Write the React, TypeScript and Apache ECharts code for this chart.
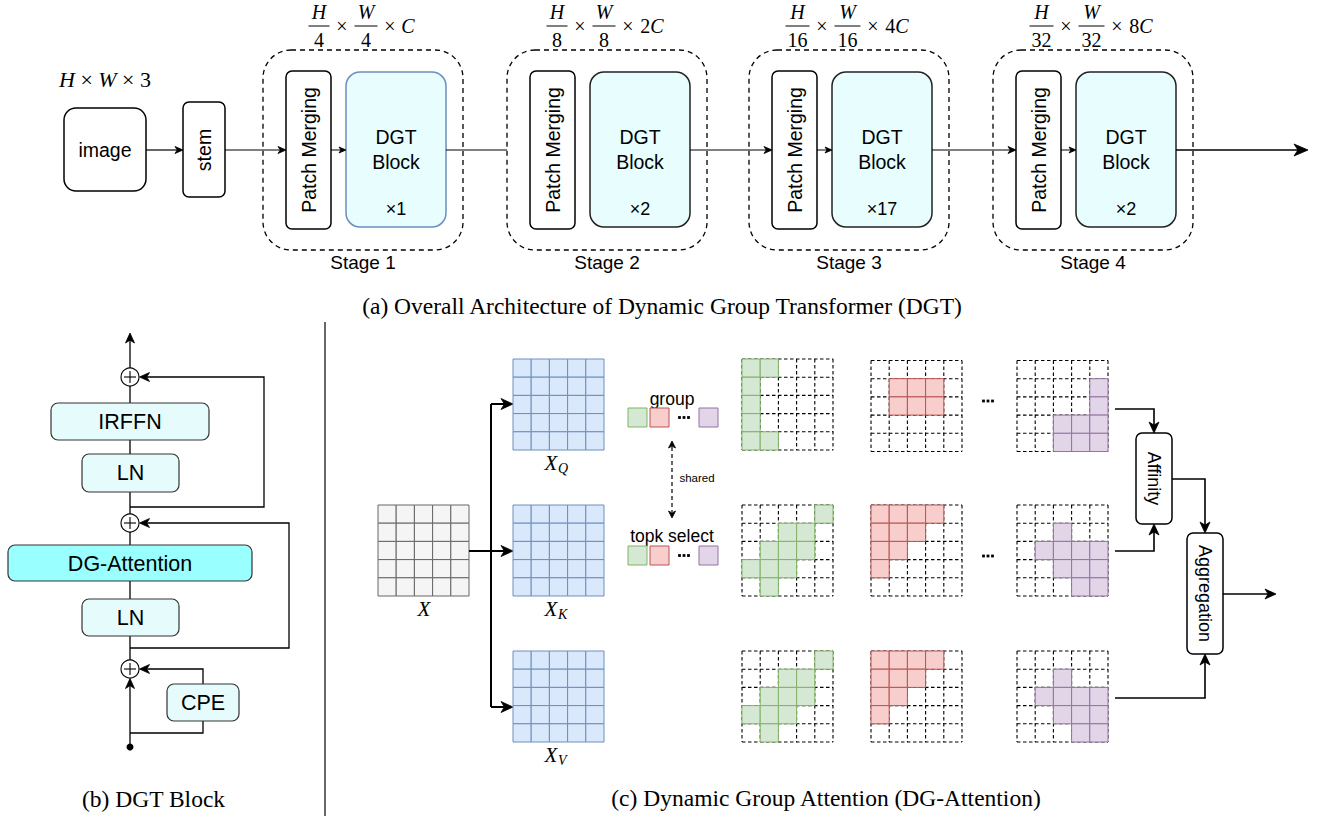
import React, { useEffect, useRef } from 'react';
import * as echarts from 'echarts';

// ---------- data ----------
const stageNames = ['Stage 1', 'Stage 2', 'Stage 3', 'Stage 4'];
const stageDenominators = ['4', '8', '16', '32'];
const stageChannelMult = ['', '2', '4', '8'];
const stageRepeats = ['×1', '×2', '×17', '×2'];
const blockLabels = ['IRFFN', 'LN', 'DG-Attention', 'LN', 'CPE'];
const qkvNames = ['Q', 'K', 'V'];
const captions = [
  '(a) Overall Architecture of Dynamic Group Transformer (DGT)',
  '(b) DGT Block',
  '(c) Dynamic Group Attention (DG-Attention)',
];
// group cells [row, col] for query maps
const greenQ = [[0, 0], [0, 1], [1, 0], [2, 0], [3, 0], [4, 0], [4, 1]];
const redQ = [[1, 1], [1, 2], [1, 3], [2, 1], [2, 2], [2, 3]];
const purpleQ = [[1, 4], [2, 4], [3, 2], [3, 3], [3, 4], [4, 2], [4, 3], [4, 4]];
// topk-selected cells for key / value maps
const greenKV = [[0, 4], [1, 2], [1, 3], [2, 1], [2, 2], [2, 3], [3, 0], [3, 1], [3, 2], [4, 1]];
const redKV = [[0, 0], [0, 1], [0, 2], [0, 3], [1, 0], [1, 1], [1, 2], [2, 0], [2, 1], [3, 0]];
const purpleKV = [[1, 2], [2, 1], [2, 2], [2, 3], [2, 4], [3, 2], [3, 3], [3, 4], [4, 3], [4, 4]];

const SANS = '"Liberation Sans", Arial, Helvetica, sans-serif';
const SERIF = '"Liberation Serif", "Times New Roman", serif';

function buildElements() {
  const els: any[] = [];
  const rect = (x: number, y: number, w: number, h: number, r: number, fill: string, stroke: string, lw = 1, dash?: number[]) => {
    els.push({ type: 'rect', silent: true, shape: { x, y, width: w, height: h, r }, style: { fill, stroke, lineWidth: lw, lineDash: dash } });
  };
  const poly = (pts: number[][], lw = 1, dash?: number[], color = '#000') => {
    els.push({ type: 'polyline', silent: true, shape: { points: pts }, style: { stroke: color, fill: null, lineWidth: lw, lineDash: dash } });
  };
  const head = (tx: number, ty: number, dx: number, dy: number, len: number, hw: number) => {
    const px = -dy, py = dx;
    els.push({
      type: 'polygon', silent: true,
      shape: { points: [[tx, ty], [tx - dx * len + px * hw, ty - dy * len + py * hw], [tx - dx * len * 0.72, ty - dy * len * 0.72], [tx - dx * len - px * hw, ty - dy * len - py * hw]] },
      style: { fill: '#000', stroke: '#000', lineWidth: 0.8 },
    });
  };
  const arrow = (pts: number[][], lw: number, len: number, hw: number, dash?: number[]) => {
    const n = pts.length;
    const [x1, y1] = pts[n - 2];
    const [x2, y2] = pts[n - 1];
    const d = Math.hypot(x2 - x1, y2 - y1);
    const dx = (x2 - x1) / d, dy = (y2 - y1) / d;
    poly(pts.slice(0, n - 1).concat([[x2 - dx * len * 0.7, y2 - dy * len * 0.7]]), lw, dash);
    head(x2, y2, dx, dy, len, hw);
  };
  const txt = (x: number, y: number, s: string, size: number, o: any = {}) => {
    els.push({
      type: 'text', silent: true, x, y, rotation: o.rot || 0,
      style: {
        text: s, fontSize: size, fontFamily: o.family || SANS, fontStyle: o.italic ? 'italic' : 'normal',
        fontWeight: o.weight || 'normal', fill: '#000',
        align: o.align || 'center', verticalAlign: 'middle', textAlign: o.align || 'center', textVerticalAlign: 'middle',
        rich: o.rich,
      },
    });
  };
  const mathRich = (size: number) => ({
    i: { fontFamily: SERIF, fontStyle: 'italic', fontSize: size, fill: '#000' },
    n: { fontFamily: SERIF, fontSize: size, fill: '#000' },
  });

  // ================= (a) overall architecture =================
  const FLOW_Y = 150;
  txt(105, 79, '{i|H}{n| × }{i|W}{n| × }{n|3}', 22, { rich: mathRich(22), family: SERIF });
  rect(64, 108, 82, 83, 12, '#fff', '#000', 1.5);
  txt(105, 150, 'image', 19.5);
  rect(183, 102, 42, 95, 6, '#fff', '#000', 1.5);
  txt(204, 150, 'stem', 19.5, { rot: Math.PI / 2 });
  arrow([[146, FLOW_Y], [183, FLOW_Y]], 1.2, 8, 3.5);

  const stageX = [263, 507, 749, 993];
  const stageW = 200;
  stageNames.forEach((name, i) => {
    const sx = stageX[i];
    const cx = sx + stageW / 2;
    rect(sx, 50, stageW, 200, 28, 'none', '#000', 1.3, [5, 4]);
    txt(cx, 262, name, 19);
    // fraction header
    const den = stageDenominators[i];
    const fw = den.length > 1 ? 24 : 21;
    const ch = stageChannelMult[i];
    const chW = ch ? 27 : 15;
    const gap = 6;
    const total = fw + gap + 13 + gap + fw + 2 + gap + 13 + gap + chW;
    let x = cx - total / 2;
    poly([[x, 26], [x + fw, 26]], 1);
    txt(x + fw / 2, 12, 'H', 20, { family: SERIF, italic: true });
    txt(x + fw / 2, 40, den, 20, { family: SERIF });
    x += fw + gap;
    txt(x + 6.5, 26, '×', 20, { family: SERIF });
    x += 13 + gap;
    poly([[x, 26], [x + fw + 2, 26]], 1);
    txt(x + (fw + 2) / 2, 12, 'W', 20, { family: SERIF, italic: true });
    txt(x + (fw + 2) / 2, 40, den, 20, { family: SERIF });
    x += fw + 2 + gap;
    txt(x + 6.5, 26, '×', 20, { family: SERIF });
    x += 13 + gap;
    txt(x + chW / 2 - 2, 26, ch ? `{n|${ch}}{i|C}` : '{i|C}', 20, { rich: mathRich(20), family: SERIF });

    // patch merging
    const pmx = sx + 23;
    rect(pmx, 71, 45, 158, 6, '#fff', '#000', 1.5);
    txt(pmx + 22.5, FLOW_Y, 'Patch Merging', 19.5, { rot: Math.PI / 2 });
    // DGT block
    const bx = sx + 83;
    rect(bx, 72, 100, 155, 14, '#e8fdfd', i === 0 ? '#6c8ebf' : '#222', 1.5);
    txt(bx + 50, 137, 'DGT', 19.5);
    txt(bx + 50, 162, 'Block', 19.5);
    txt(bx + 50, 209, stageRepeats[i], 18);
    if (i !== 1) arrow([[pmx + 45, FLOW_Y], [bx, FLOW_Y]], 1, 7, 3);
    if (i === 0) {
      arrow([[225, FLOW_Y], [pmx, FLOW_Y]], 1.2, 8, 3.5);
      poly([[bx + 100, FLOW_Y], [stageX[1], FLOW_Y]], 1.2);
    } else if (i < 3) {
      arrow([[bx + 100, FLOW_Y], [stageX[i + 1] + 23, FLOW_Y]], 1.2, 8, 3.5);
    } else {
      arrow([[bx + 100, FLOW_Y], [1308, FLOW_Y]], 1.6, 14, 6);
    }
  });
  txt(662, 306, captions[0], 23.5, { family: SERIF });

  // ================= (b) DGT block =================
  const BX = 130;
  const LW_B = 1.3;
  const fillLight = '#e6fcfc';
  [[386, 403], [440, 454], [492, 514], [532, 545], [581, 599], [636, 660]].forEach(([a, b]) => poly([[BX, a], [BX, b]], LW_B));
  arrow([[BX, 368], [BX, 333]], LW_B, 10, 4.5);
  arrow([[BX, 507], [264, 507], [264, 377], [139.5, 377]], LW_B, 10, 4.5);
  arrow([[BX, 648], [289, 648], [289, 523], [139.5, 523]], LW_B, 10, 4.5);
  poly([[BX, 733], [203, 733], [203, 721]], LW_B);
  arrow([[203, 684], [203, 669], [139.5, 669]], LW_B, 10, 4.5);
  arrow([[BX, 747], [BX, 678.5]], LW_B, 10, 4.5);
  els.push({ type: 'circle', silent: true, shape: { cx: BX, cy: 747, r: 3.5 }, style: { fill: '#000' } });
  rect(51, 403, 158, 37, 7, fillLight, '#333', 1.2);
  txt(130, 422, blockLabels[0], 21.5);
  rect(82, 454, 97, 38, 7, fillLight, '#333', 1.2);
  txt(130.5, 473, blockLabels[1], 21.5);
  rect(8, 545, 244, 36, 7, '#99ffff', '#333', 1.2);
  txt(130, 563.5, blockLabels[2], 21.5);
  rect(82, 599, 97, 37, 7, fillLight, '#333', 1.2);
  txt(130.5, 618, blockLabels[3], 21.5);
  rect(167, 684, 72, 37, 7, fillLight, '#333', 1.2);
  txt(203, 703, blockLabels[4], 21.5);
  [377, 523, 669].forEach((cy) => {
    els.push({ type: 'circle', silent: true, shape: { cx: BX, cy, r: 9 }, style: { fill: '#fff', stroke: '#000', lineWidth: 1.1 } });
    poly([[BX - 6, cy], [BX + 6, cy]], 1.1);
    poly([[BX, cy - 6], [BX, cy + 6]], 1.1);
  });
  txt(153.5, 799, captions[1], 23.5, { family: SERIF });

  // divider
  poly([[325, 322], [325, 816]], 1.2);

  // ================= (c) DG-Attention =================
  const CS = 18.2;
  const solidGrid = (x: number, y: number, fill: string, stroke: string) => {
    for (let r = 0; r < 5; r++) for (let c = 0; c < 5; c++) rect(x + c * CS, y + r * CS, CS, CS, 0, fill, stroke, 1);
  };
  const attnGrid = (x: number, y: number, cells: number[][], fill: string, stroke: string) => {
    for (let k = 0; k <= 5; k++) {
      poly([[x, y + k * CS], [x + 5 * CS, y + k * CS]], 1.1, [3.5, 2.5]);
      poly([[x + k * CS, y], [x + k * CS, y + 5 * CS]], 1.1, [3.5, 2.5]);
    }
    cells.forEach(([r, c]) => rect(x + c * CS, y + r * CS, CS, CS, 0, fill, stroke, 1));
  };
  const dots = (x: number, y: number) => {
    [-4.5, 0, 4.5].forEach((d) => els.push({ type: 'rect', silent: true, shape: { x: x + d - 1.4, y: y - 1.4, width: 2.8, height: 2.8 }, style: { fill: '#000' } }));
  };
  const GREEN = ['#d5e8d4', '#82b366'];
  const RED = ['#f8cecc', '#b85450'];
  const PURPLE = ['#e1d5e7', '#9673a6'];
  const BLUE = ['#dae8fc', '#6c8ebf'];

  solidGrid(378, 505, '#f5f5f5', '#666666');
  txt(424, 609, 'X', 21, { family: SERIF, italic: true });
  arrow([[469, 551], [513, 551]], 2, 12, 5.5);
  poly([[491, 404], [491, 707]], 2);
  arrow([[491, 404], [513, 404]], 2, 12, 5.5);
  arrow([[491, 707], [513, 707]], 2, 12, 5.5);

  const rowY = [359, 505, 651];
  qkvNames.forEach((nm, i) => {
    solidGrid(513, rowY[i], BLUE[0], BLUE[1]);
    const ly = rowY[i] + 104;
    txt(551, ly, 'X', 21, { family: SERIF, italic: true });
    txt(558, ly + 5, nm, 14, { family: SERIF, italic: true, align: 'left' });
  });

  txt(672, 399, 'group', 17.5);
  txt(672, 536, 'topk select', 17.5);
  [408, 546].forEach((sy) => {
    rect(628, sy, 19, 19, 0, GREEN[0], GREEN[1], 1);
    rect(650, sy, 19, 19, 0, RED[0], RED[1], 1);
    dots(684, sy + 9.5);
    rect(699, sy, 19, 19, 0, PURPLE[0], PURPLE[1], 1);
  });
  poly([[672, 447], [672, 512]], 1.2, [4, 3]);
  head(672, 441, 0, -1, 7, 3.5);
  head(672, 518, 0, 1, 7, 3.5);
  txt(697, 478, 'shared', 11.5);

  const colX = [742, 871, 1017];
  const colGroups = [
    [greenQ, greenKV, greenKV],
    [redQ, redKV, redKV],
    [purpleQ, purpleKV, purpleKV],
  ];
  const colColors = [GREEN, RED, PURPLE];
  colX.forEach((cx, j) => {
    rowY.forEach((ry, i) => {
      attnGrid(cx, ry + (j > 0 && i === 0 ? 1.5 : 0), colGroups[j][i], colColors[j][0], colColors[j][1]);
    });
  });
  dots(988, 401);
  dots(988, 556);

  const LW_C = 1.6;
  arrow([[1115, 409], [1154, 409], [1154, 433]], LW_C, 11, 5);
  arrow([[1115, 551], [1154, 551], [1154, 524]], LW_C, 11, 5);
  arrow([[1172, 479], [1205, 479], [1205, 533]], LW_C, 11, 5);
  arrow([[1115, 698], [1205, 698], [1205, 654]], LW_C, 11, 5);
  arrow([[1223, 594], [1276, 594]], LW_C, 11, 5);
  rect(1136, 433, 36, 91, 6, '#fff', '#000', 1.5);
  txt(1154, 478.5, 'Affinity', 18, { rot: -Math.PI / 2 });
  rect(1187, 533, 36, 121, 6, '#fff', '#000', 1.5);
  txt(1205, 593.5, 'Aggregation', 18, { rot: -Math.PI / 2 });

  txt(826, 798, captions[2], 23.5, { family: SERIF });
  return els;
}

export default function App() {
  const ref = useRef<HTMLDivElement>(null);
  useEffect(() => {
    if (!ref.current) return;
    const chart = echarts.init(ref.current, undefined, { renderer: 'svg', width: 1320, height: 819 });
    chart.setOption({
      animation: false,
      backgroundColor: '#ffffff',
      graphic: { elements: buildElements() },
    });
    return () => chart.dispose();
  }, []);
  return <div ref={ref} style={{ position: 'absolute', left: 0, top: 0, width: 1320, height: 819, background: '#fff' }} />;
}
